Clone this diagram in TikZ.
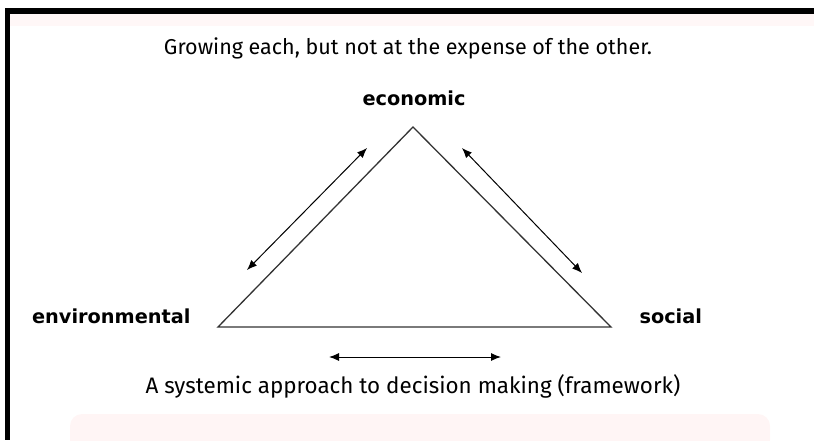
\documentclass[tikz,border=0pt]{standalone}
\usepackage{fontspec}
\setmainfont{Fira Sans}
\newfontfamily\polefont{DejaVu Sans}
\usetikzlibrary{arrows.meta, positioning}

\begin{document}
\begin{tikzpicture}[x=1pt, y=-1pt,
        pole/.style={font=\polefont\fontsize{19.3}{21}\selectfont\bfseries},
        caption/.style={font=\fontsize{21.5}{24}\selectfont},
        twoway/.style={{Latex[length=10pt,width=8pt]}-{Latex[length=10pt,width=8pt]}, line width=1pt}]
        \useasboundingbox (0,0) rectangle (814,440);
        \fill[red!3] (10,14) rectangle (814,26);
        \fill[red!4, rounded corners=12pt] (70,414) rectangle (770,452);
        \fill[black] (5,8) rectangle (814,14);
        \fill[black] (5,8) rectangle (10,440);

        \coordinate (top) at (413,127);
        \coordinate (left) at (218,327);
        \coordinate (right) at (611,327);
        \draw[line width=1.3pt, black!80] (top) -- (right) -- (left) -- cycle;

        \coordinate (ea) at (247,270);
        \coordinate (eb) at (367,148);
        \coordinate (sa) at (462,148);
        \coordinate (sb) at (582,273);
        \coordinate (ba) at (329,357);
        \coordinate (bb) at (501,357);

        \node[caption] (head) at (408,48) {Growing each, but not at the expense of the other.};
        \node[pole] (econ) at (414,98) {economic};
        \node[pole, anchor=east] (env) at (194,316) {environmental};
        \node[pole, anchor=west] (soc) at (636,316) {social};
        \node[caption, font=\fontsize{22.4}{24}\selectfont] (foot) at (413,386) {A systemic approach to decision making (framework)};

        \path[twoway] (ea) edge node {} (eb);
        \path[twoway] (sa) edge node {} (sb);
        \path[twoway] (ba) edge node {} (bb);
    \end{tikzpicture}
\end{document}
